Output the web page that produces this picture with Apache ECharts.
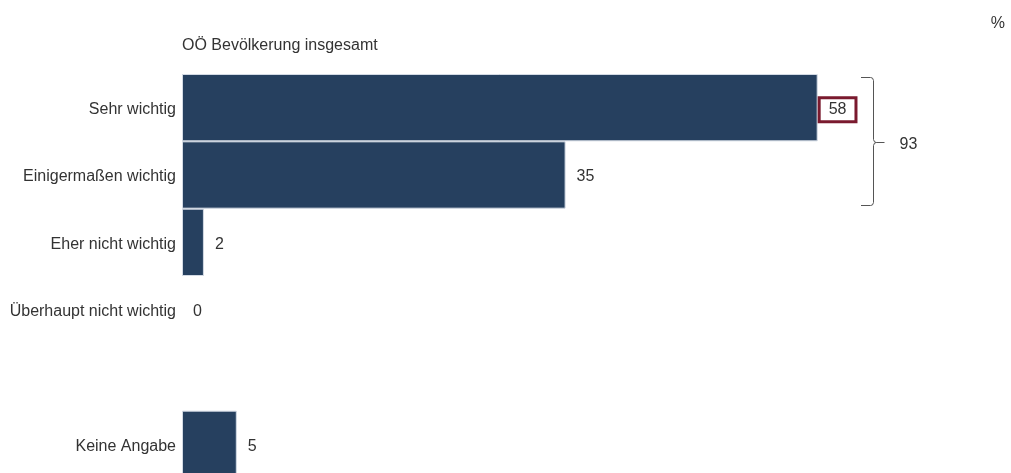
<!DOCTYPE html>
<html>
<head>
<meta charset="utf-8">
<script src="https://cdn.jsdelivr.net/npm/echarts@6/dist/echarts.min.js"></script>
<style>
html,body{margin:0;padding:0;background:#fff;}
#chart{width:1011px;height:473px;}
</style>
</head>
<body>
<div id="chart"></div>
<script>
const categories = ['Sehr wichtig', 'Einigermaßen wichtig', 'Eher nicht wichtig', 'Überhaupt nicht wichtig', '', 'Keine Angabe'];
const values = [58, 35, 2, 0, null, 5];
const highlightIndex = 0;
const braceRange = [0, 1];
const braceTotal = 93;
const titleText = 'OÖ Bevölkerung insgesamt';
const unitText = '%';

const FONT = '"Liberation Sans", Arial, sans-serif';
const TXT = '#333333';
const FS = 16;

const chart = echarts.init(document.getElementById('chart'), null, {renderer: 'canvas'});

const data = values.map((v, i) => {
  if (v === null) return '-';
  if (i === highlightIndex) {
    return {
      value: v,
      label: {
        backgroundColor: '#ffffff',
        borderColor: '#7a1a2e',
        borderWidth: 3,
        padding: [3, 8, 2, 8],
        distance: 3,
        offset: [0, 2]
      }
    };
  }
  if (v === 0) {
    return {value: v, itemStyle: {borderWidth: 0}};
  }
  return v;
});

const titleEls = [
  {type: 'text', left: 182, top: 38, style: {text: titleText, fill: TXT, font: FS + 'px ' + FONT}},
  {type: 'text', right: 6, top: 16, style: {text: unitText, fill: TXT, font: FS + 'px ' + FONT}}
];

const option = {
  animation: false,
  backgroundColor: '#ffffff',
  textStyle: {fontFamily: FONT},
  grid: {left: 182, top: 74, right: 7, height: 404, containLabel: false, outerBoundsMode: 'none'},
  xAxis: {
    type: 'value', min: 0, max: 75, show: false
  },
  yAxis: {
    type: 'category', data: categories, inverse: true,
    axisLine: {show: false}, axisTick: {show: false}, splitLine: {show: false},
    axisLabel: {
      color: TXT, fontSize: FS, fontFamily: FONT, margin: 6,
      formatter: v => v ? '{a|' + v + '}' : '',
      rich: {a: {color: TXT, fontSize: FS, fontFamily: FONT, padding: [4, 0, 0, 0]}}
    }
  },
  series: [{
    type: 'bar',
    data: data,
    barCategoryGap: '0%',
    itemStyle: {color: '#26405f', borderColor: '#d3dae4', borderWidth: 1},
    label: {
      show: true, position: 'right', distance: 11, offset: [0, 2],
      color: TXT, fontSize: FS, fontFamily: FONT,
      formatter: p => p.value
    }
  }],
  graphic: titleEls
};
chart.setOption(option);

// Brace around the first two bars, placed from the axes' own scales
const maxVal = Math.max(values[braceRange[0]], values[braceRange[1]]);
const pEnd = chart.convertToPixel({gridIndex: 0}, [maxVal, categories[braceRange[0]]]);
const pTop = chart.convertToPixel({gridIndex: 0}, [0, categories[braceRange[0]]]);
const pBot = chart.convertToPixel({gridIndex: 0}, [0, categories[braceRange[1]]]);
const half = (pBot[1] - pTop[1]) / 2;
const y0 = Math.round(pTop[1] - half + 3) + 0.5;
const y1 = Math.round(pBot[1] + half - 3) - 0.5;
const ym = Math.round((y0 + y1) / 2) + 0.5;
const x0 = Math.round(pEnd[0] + 43);
const xv = x0 + 12.5;
const xt = xv + 11;
const braceStyle = {fill: null, stroke: '#555555', lineWidth: 1};
chart.setOption({
  graphic: titleEls.concat([
    {type: 'polyline', shape: {points: [[x0, y0], [xv - 3, y0], [xv - 1, y0 + 0.6], [xv, y0 + 3], [xv, ym - 3], [xv + 1, ym - 0.6], [xv + 3, ym]]}, style: braceStyle},
    {type: 'polyline', shape: {points: [[xv + 3, ym], [xv + 1, ym + 0.6], [xv, ym + 3], [xv, y1 - 3], [xv - 1, y1 - 0.6], [xv - 3, y1], [x0, y1]]}, style: braceStyle},
    {type: 'line', shape: {x1: xv + 3, y1: ym, x2: xt, y2: ym}, style: braceStyle},
    {type: 'text', x: xt + 15, y: ym + 2, style: {text: String(braceTotal), fill: TXT, font: FS + 'px ' + FONT, verticalAlign: 'middle'}}
  ])
});
</script>
</body>
</html>
